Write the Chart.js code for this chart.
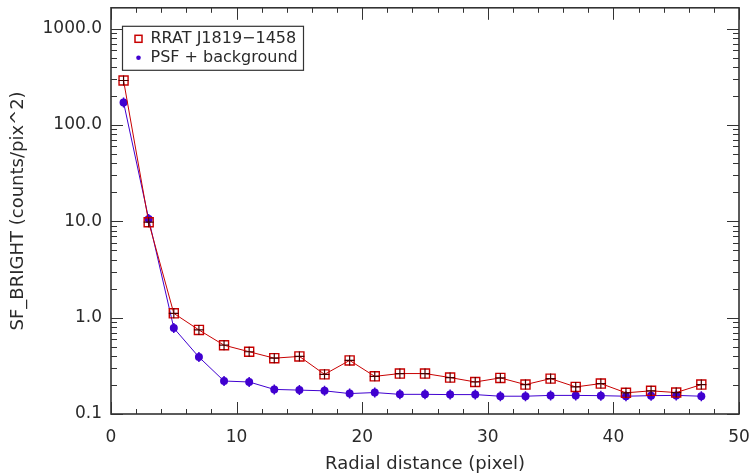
<!DOCTYPE html>
<html>
<head>
<meta charset="utf-8">
<script src="https://cdn.jsdelivr.net/npm/chart.js@4/dist/chart.umd.min.js"></script>
<style>
html,body{margin:0;padding:0;background:#fff;}
#wrap{width:752px;height:475px;position:relative;}
</style>
</head>
<body>
<div id="wrap"><canvas id="c" width="752" height="475"></canvas></div>
<script>
const radius = [1,3,5,7,9,11,13,15,17,19,21,23,25,27,29,31,33,35,37,39,41,43,45,47];
const rratValues = [290,9.8,1.11,0.746,0.518,0.443,0.38,0.396,0.258,0.36,0.246,0.263,0.263,0.239,0.215,0.237,0.202,0.233,0.191,0.207,0.166,0.174,0.167,0.202];
const psfValues = [172,10.6,0.78,0.39,0.22,0.215,0.18,0.177,0.174,0.163,0.167,0.16,0.16,0.159,0.159,0.153,0.153,0.156,0.156,0.155,0.153,0.155,0.156,0.153];
const yTickValues = [0.1,1,10,100,1000];
const xTickValues = [0,10,20,30,40,50];
const seriesLabels = ['RRAT J1819\u22121458','PSF + background'];
const xTitle = 'Radial distance (pixel)';
const yTitle = 'SF_BRIGHT (counts/pix^2)';

const RED = '#c80000', BLUE = '#4000d0', AXIS = '#333333', TXT = '#2a2a2a';
const FONT = 'DejaVu Sans';

const pts = (vals) => radius.map((x,i)=>({x:x,y:vals[i]}));

const frameTicks = {
  id:'frameTicks',
  afterDatasetsDraw(chart){
    const ctx = chart.ctx, a = chart.chartArea;
    const xs = chart.scales.x, ys = chart.scales.y;
    ctx.save();
    ctx.strokeStyle = AXIS;
    ctx.lineWidth = 1;
    for(let v=0; v<=50; v+=2){
      const px = Math.round(xs.getPixelForValue(v))+0.5;
      const L = (v%10===0)?12:5;
      ctx.beginPath();
      ctx.moveTo(px,a.bottom); ctx.lineTo(px,a.bottom-L);
      ctx.moveTo(px,a.top); ctx.lineTo(px,a.top+L);
      ctx.stroke();
    }
    for(let d=-1; d<=3; d++){
      for(let m=1; m<=9; m++){
        const v = m*Math.pow(10,d);
        if(v<ys.min-1e-9 || v>ys.max) continue;
        const py = Math.round(ys.getPixelForValue(v))+0.5;
        const L = (m===1)?12:6;
        ctx.beginPath();
        ctx.moveTo(a.left,py); ctx.lineTo(a.left+L,py);
        ctx.moveTo(a.right,py); ctx.lineTo(a.right-L,py);
        ctx.stroke();
      }
    }
    ctx.lineWidth = 1.6;
    ctx.strokeRect(a.left, a.top, a.right-a.left, a.bottom-a.top);
    ctx.restore();
  },
  afterDraw(chart){
    const ctx = chart.ctx, a = chart.chartArea;
    const bx = a.left+11.5, by = a.top+18.5, bw = 181, bh = 44;
    ctx.save();
    ctx.fillStyle='#fff';
    ctx.fillRect(bx,by,bw,bh);
    ctx.strokeStyle=AXIS; ctx.lineWidth=1.2;
    ctx.strokeRect(bx,by,bw,bh);
    ctx.strokeStyle=RED; ctx.lineWidth=1.5;
    ctx.strokeRect(bx+12.5,by+9,7,7);
    ctx.fillStyle=BLUE;
    ctx.beginPath(); ctx.arc(bx+16,by+31.5,2.3,0,Math.PI*2); ctx.fill();
    ctx.fillStyle=TXT;
    ctx.font = '16px "'+FONT+'"';
    ctx.textBaseline='middle';
    ctx.fillText(seriesLabels[0], bx+28, by+13);
    ctx.fillText(seriesLabels[1], bx+28, by+31.5);
    ctx.restore();
  }
};

new Chart(document.getElementById('c'),{
  type:'line',
  data:{
    datasets:[
      {label:seriesLabels[1], data:pts(psfValues), borderColor:BLUE, backgroundColor:BLUE, borderWidth:1,
       pointStyle:'circle', pointRadius:4, pointBorderWidth:0, tension:0, order:4},
      {label:'psf-err', data:pts(psfValues), showLine:false, borderColor:BLUE, backgroundColor:BLUE,
       pointStyle:'line', pointRotation:90, pointRadius:5, pointBorderWidth:1.5, order:3},
      {label:seriesLabels[0], data:pts(rratValues), borderColor:RED, backgroundColor:'rgba(0,0,0,0)', borderWidth:1,
       pointStyle:'rect', pointRadius:6.4, pointBorderWidth:1.4, pointBorderColor:RED, tension:0, order:2},
      {label:'rrat-err', data:pts(rratValues), showLine:false, borderColor:'#4a0000', backgroundColor:'#4a0000',
       pointStyle:'cross', pointRadius:5, pointBorderWidth:1.2, order:1}
    ]
  },
  options:{
    responsive:false,
    animation:false,
    devicePixelRatio:1,
    layout:{padding:{left:0,right:13,top:5,bottom:0}},
    plugins:{legend:{display:false},tooltip:{enabled:false}},
    scales:{
      x:{
        type:'linear', min:0, max:50,
        afterBuildTicks(s){ s.ticks = xTickValues.map(v=>({value:v})); },
        afterFit(s){ s.height = 61; s.paddingLeft = 0; s.paddingRight = 0; },
        grid:{display:false, drawTicks:false},
        border:{display:false},
        ticks:{padding:13, color:TXT, font:{family:FONT,size:17}, maxRotation:0, callback:(v)=>String(v)},
        title:{display:true, text:xTitle, color:TXT, font:{family:FONT,size:18}, padding:{top:2,bottom:0}}
      },
      y:{
        type:'logarithmic', min:0.1, max:1650,
        afterBuildTicks(s){ s.ticks = yTickValues.map(v=>({value:v})); },
        afterFit(s){ s.width = 111; s.paddingTop = 0; s.paddingBottom = 0; },
        grid:{display:false, drawTicks:false},
        border:{display:false},
        ticks:{padding:9, color:TXT, font:{family:FONT,size:17}, callback:(v)=>Number(v).toFixed(1)},
        title:{display:true, text:yTitle, color:TXT, font:{family:FONT,size:18}, padding:{top:8,bottom:0}}
      }
    }
  },
  plugins:[frameTicks]
});
</script>
</body>
</html>
